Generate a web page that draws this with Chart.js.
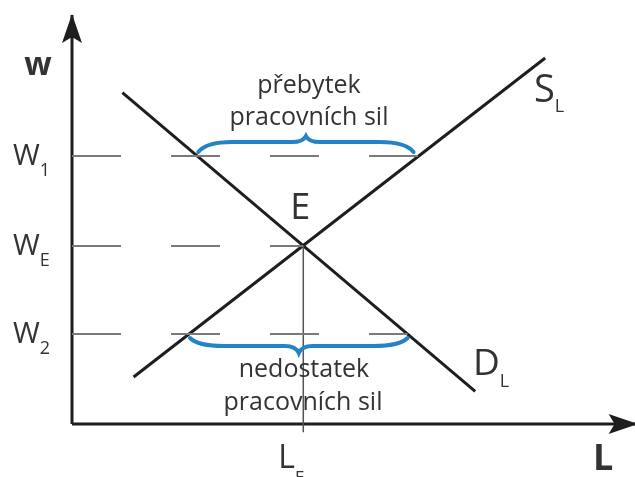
<!DOCTYPE html>
<html>
<head>
<meta charset="utf-8">
<script src="https://cdn.jsdelivr.net/npm/chart.js@4"></script>
<style>
  body { margin: 0; background: #fff; }
  #wrap { width: 635px; height: 477px; position: relative; }
</style>
</head>
<body>
<div id="wrap"><canvas id="graf"></canvas></div>
<script>
// krivka poptavky a nabidky prace (L, w)
const demandL = [0.9, 7.2];
const demandW = [8.1, 0.8];
const supplyL = [1.1, 8.45];
const supplyW = [1.15, 8.95];

// mzdove urovne w1, wE, w2
const wageLevels = [6.55, 4.35, 2.2];
const wageSubs = ["1", "E", "2"];
const equilibriumL = 4.13;

const axisL = [0, 10.1];
const axisW = [0, 10];

// L na primce pro danou mzdu
function lAt(ls, ws, w) {
  return ls[0] + (w - ws[0]) * (ls[1] - ls[0]) / (ws[1] - ws[0]);
}

const w1 = wageLevels[0], wE = wageLevels[1], w2 = wageLevels[2];
const pts = (xs, ys) => xs.map((x, i) => ({ x: x, y: ys[i] }));

function lineDs(data, color, width, dash) {
  return {
    data: data,
    showLine: true,
    borderColor: color,
    borderWidth: width,
    borderDash: dash || [],
    pointRadius: 0,
    fill: false,
    clip: false
  };
}

const datasets = [
  lineDs(pts([0, lAt(supplyL, supplyW, w1)], [w1, w1]), "#7a7a7a", 2, [49, 50]),
  lineDs(pts([0, equilibriumL], [wE, wE]), "#7a7a7a", 2, [49, 50]),
  lineDs(pts([0, lAt(demandL, demandW, w2)], [w2, w2]), "#7a7a7a", 2, [49, 50]),
  lineDs(pts([equilibriumL, equilibriumL], [wE, -0.2]), "#555", 1.5),
  lineDs(pts(demandL, demandW), "#1e1e1e", 3),
  lineDs(pts(supplyL, supplyW), "#1e1e1e", 3),
  lineDs(pts(axisL, [0, 0]), "#1e1e1e", 3),
  lineDs(pts([0, 0], axisW), "#1e1e1e", 3)
];

function arrow(ctx, x, y, dx, dy) {
  const len = 29, half = 10, notch = 6;
  const px = -dy, py = dx;
  ctx.beginPath();
  ctx.moveTo(x, y);
  ctx.lineTo(x - dx * len + px * half, y - dy * len + py * half);
  ctx.lineTo(x - dx * (len - notch), y - dy * (len - notch));
  ctx.lineTo(x - dx * len - px * half, y - dy * len - py * half);
  ctx.closePath();
  ctx.fillStyle = "#1e1e1e";
  ctx.fill();
}

function brace(ctx, x1, x2, y0, dir, h, t) {
  const mid = (x1 + x2) / 2;
  const yb = y0 + dir * h;
  ctx.beginPath();
  ctx.moveTo(x1, y0);
  ctx.quadraticCurveTo(x1 + 8, yb, x1 + 34, yb);
  ctx.lineTo(mid - 14, yb);
  ctx.quadraticCurveTo(mid - 3, yb, mid, yb + dir * t);
  ctx.quadraticCurveTo(mid + 3, yb, mid + 14, yb);
  ctx.lineTo(x2 - 34, yb);
  ctx.quadraticCurveTo(x2 - 8, yb, x2, y0);
  ctx.strokeStyle = "#2383c6";
  ctx.lineWidth = 4;
  ctx.lineCap = "round";
  ctx.stroke();
}

function sub(ctx, main, s, x, y, size, subSize, dy, weight) {
  ctx.textAlign = "left";
  ctx.font = (weight || "") + " " + size + "px 'Open Sans'";
  ctx.fillText(main, x, y);
  const w = ctx.measureText(main).width;
  ctx.font = subSize + "px 'Open Sans'";
  ctx.fillText(s, x + w, y + dy);
}

const popisky = {
  id: "popisky",
  afterDatasetsDraw(chart) {
    const ctx = chart.ctx;
    const xs = chart.scales.x, ys = chart.scales.y;
    ctx.save();
    // sipky os
    arrow(ctx, xs.getPixelForValue(axisL[1]), ys.getPixelForValue(0), 1, 0);
    arrow(ctx, xs.getPixelForValue(0), ys.getPixelForValue(axisW[1]) - 1, 0, -1);

    // zavorky
    const yw1 = ys.getPixelForValue(w1), yw2 = ys.getPixelForValue(w2);
    brace(ctx, xs.getPixelForValue(lAt(demandL, demandW, w1)) + 1,
      xs.getPixelForValue(lAt(supplyL, supplyW, w1)) - 5, yw1 - 4, -1, 10, 6);
    brace(ctx, xs.getPixelForValue(lAt(supplyL, supplyW, w2)) + 1,
      xs.getPixelForValue(lAt(demandL, demandW, w2)), yw2 + 4, 1, 8, 7);

    ctx.fillStyle = "#333";
    ctx.textBaseline = "alphabetic";

    // popisky mzdy
    wageLevels.forEach((w, i) => {
      const y = ys.getPixelForValue(w);
      sub(ctx, "W", wageSubs[i], 13, y + 9, 29, 18, 11);
    });
    ctx.font = "bold 32px 'Open Sans'";
    ctx.textAlign = "center";
    ctx.fillText("w", 38, 75);
    ctx.font = "bold 36px 'Open Sans'";
    ctx.textAlign = "left";
    ctx.fillText("L", 593, 470);

    const xE = xs.getPixelForValue(equilibriumL), yE = ys.getPixelForValue(wE);
    ctx.font = "36px 'Open Sans'";
    ctx.textAlign = "center";
    ctx.fillText("E", xE - 3, yE - 27);
    sub(ctx, "L", "E", xE - 25, 468, 32, 17, 15);

    sub(ctx, "S", "L", 534, 102, 38, 18, 10);
    sub(ctx, "D", "L", 473, 375, 37, 18, 12);

    ctx.textAlign = "center";
    ctx.font = "25px 'Open Sans'";
    ctx.fillText("přebytek", 309, 93);
    ctx.fillText("pracovních sil", 309, 125);
    ctx.fillText("nedostatek", 304, 377);
    ctx.fillText("pracovních sil", 303, 410);
    ctx.restore();
  }
};

new Chart(document.getElementById("graf"), {
  type: "scatter",
  data: { datasets: datasets },
  options: {
    responsive: true,
    maintainAspectRatio: false,
    animation: false,
    layout: { padding: { left: 72, top: 15, right: 3, bottom: 53 } },
    plugins: { legend: { display: false }, tooltip: { enabled: false } },
    scales: {
      x: { type: "linear", min: 0, max: 10, display: false },
      y: { type: "linear", min: 0, max: 10, display: false }
    }
  },
  plugins: [popisky]
});
</script>
</body>
</html>
